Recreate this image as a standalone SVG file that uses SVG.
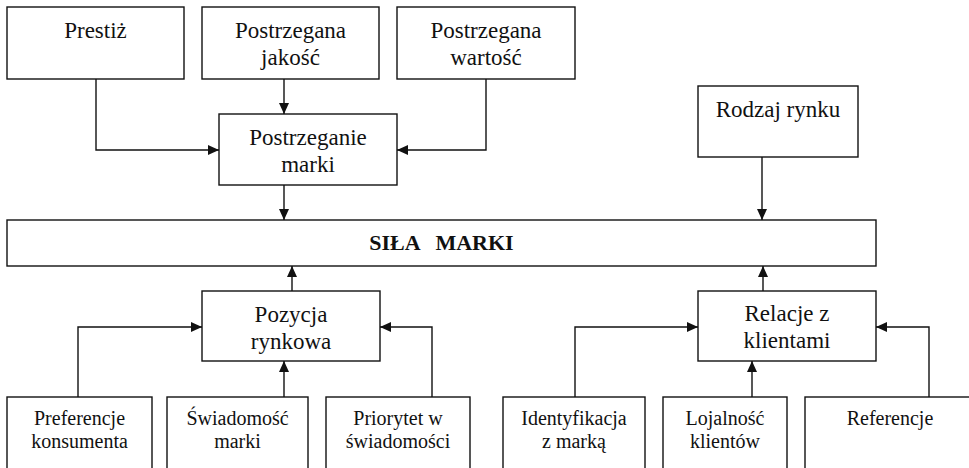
<svg xmlns="http://www.w3.org/2000/svg" width="969" height="468" viewBox="0 0 969 468">
<defs>
<style>
.box{fill:#fff;stroke:#111;stroke-width:1.4}
.t{font-family:"Liberation Serif","Times New Roman",serif;font-size:23px;fill:#111;text-anchor:middle}
.s{font-family:"Liberation Serif","Times New Roman",serif;font-size:20px;fill:#111;text-anchor:middle}
.b{font-family:"Liberation Serif","Times New Roman",serif;font-size:22px;font-weight:bold;fill:#111;text-anchor:middle;white-space:pre;word-spacing:2.5px}
.c{fill:none;stroke:#111;stroke-width:1.4;marker-end:url(#ah)}
</style>
<marker id="ah" markerUnits="userSpaceOnUse" markerWidth="12" markerHeight="10" refX="11" refY="5" orient="auto">
<path d="M0,0 L11,5 L0,10 z" fill="#111"/>
</marker>
</defs>
<rect width="969" height="468" fill="#fff"/>
<g id="prestiz"><rect class="box" x="7" y="7" width="177" height="72"/><text class="t" x="95.5" y="38">Prestiż</text></g>
<g id="jakosc"><rect class="box" x="202" y="7" width="177" height="72"/><text class="t" x="290.5" y="38">Postrzegana</text><text class="t" x="290.5" y="65">jakość</text></g>
<g id="wartosc"><rect class="box" x="397" y="7" width="178" height="72"/><text class="t" x="486" y="38">Postrzegana</text><text class="t" x="486" y="65">wartość</text></g>
<g id="postrzeganie"><rect class="box" x="219" y="114" width="178" height="71"/><text class="t" x="308" y="145">Postrzeganie</text><text class="t" x="308" y="172">marki</text></g>
<g id="rodzaj"><rect class="box" x="698" y="86" width="160" height="71"/><text class="t" x="778" y="117">Rodzaj rynku</text></g>
<g id="sila"><rect class="box" x="7" y="220" width="869" height="46"/><text class="b" x="441.5" y="250">SIŁA  MARKI</text></g>
<g id="pozycja"><rect class="box" x="202" y="291" width="178" height="70"/><text class="t" x="291" y="322">Pozycja</text><text class="t" x="291" y="349">rynkowa</text></g>
<g id="relacje"><rect class="box" x="698" y="291" width="178" height="70"/><text class="t" x="787" y="321">Relacje z</text><text class="t" x="787" y="348">klientami</text></g>
<g id="preferencje"><rect class="box" x="7" y="397" width="145" height="90"/><text class="s" x="79.5" y="425">Preferencje</text><text class="s" x="79.5" y="448">konsumenta</text></g>
<g id="swiadomosc"><rect class="box" x="167" y="397" width="141" height="90"/><text class="s" x="237.5" y="425">Świadomość</text><text class="s" x="237.5" y="448">marki</text></g>
<g id="priorytet"><rect class="box" x="326" y="397" width="144" height="90"/><text class="s" x="398" y="425">Priorytet w</text><text class="s" x="398" y="448">świadomości</text></g>
<g id="identyfikacja"><rect class="box" x="503" y="397" width="142" height="90"/><text class="s" x="574" y="425">Identyfikacja</text><text class="s" x="574" y="448">z marką</text></g>
<g id="lojalnosc"><rect class="box" x="663" y="397" width="124" height="90"/><text class="s" x="725" y="425">Lojalność</text><text class="s" x="725" y="448">klientów</text></g>
<g id="referencje"><rect class="box" x="805" y="397" width="170" height="90"/><text class="s" x="890" y="425">Referencje</text></g>
<g id="connectors">
<path class="c" d="M96,79 V150 H219"/>
<path class="c" d="M284,79 V114"/>
<path class="c" d="M486,79 V150 H397"/>
<path class="c" d="M284,185 V220"/>
<path class="c" d="M762,157 V220"/>
<path class="c" d="M292,291 V266"/>
<path class="c" d="M763,291 V266"/>
<path class="c" d="M78,397 V327 H202"/>
<path class="c" d="M284,397 V361"/>
<path class="c" d="M432,397 V327 H380"/>
<path class="c" d="M575,397 V327 H698"/>
<path class="c" d="M752,397 V361"/>
<path class="c" d="M929,397 V327 H876"/>
</g>
</svg>
